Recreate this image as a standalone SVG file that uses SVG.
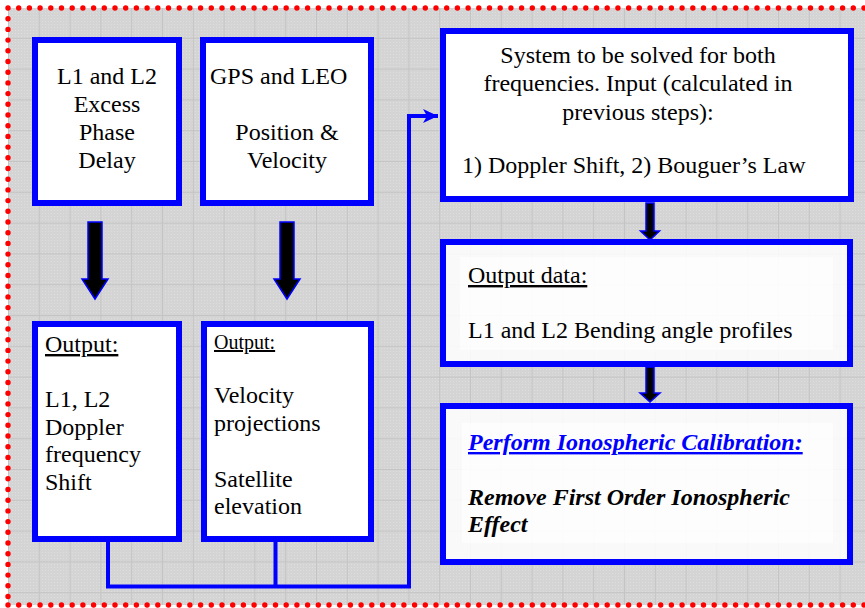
<svg xmlns="http://www.w3.org/2000/svg" width="865" height="608" viewBox="0 0 865 608">
<defs>
<pattern id="fine" width="3" height="3" patternUnits="userSpaceOnUse">
<rect width="3" height="3" fill="#d4d4d4"/>
<rect width="1" height="1" fill="#dedede"/>
</pattern>
<pattern id="grid" x="8" y="7" width="30.8" height="30.8" patternUnits="userSpaceOnUse">
<path d="M0 0.5 H30.8 M0.5 0 V30.8" stroke="#c4c4c4" stroke-width="1" fill="none"/>
</pattern>
<path id="fat" d="M -7 0 H 7 V 57 H 13 L 0 77 L -13 57 H -7 Z"/>
<marker id="ah" markerWidth="16" markerHeight="16" refX="15" refY="8" orient="auto" markerUnits="userSpaceOnUse">
<path d="M0 1 L15 8 L0 15 L4 8 Z" fill="#0000ff"/>
</marker>
</defs>
<style>
.box{fill:#ffffff;stroke:#0000ff;stroke-width:6}
.box2{fill:#ffffff;fill-opacity:0.85;stroke:#0000ff;stroke-width:6}
.inner{fill:#ffffff;fill-opacity:0.6}
.fat{fill:#000000;stroke:#0000ff;stroke-width:1.5}
.conn{fill:none;stroke:#0000ff;stroke-width:4}
.dots{stroke:#ff0000;stroke-width:5.4;stroke-linecap:round;stroke-dasharray:0 10.7;fill:none}
text{font-family:"Liberation Serif","Times New Roman",serif;font-size:24px;fill:#000000}
.c{text-anchor:middle}
.u{text-decoration:underline}
.bi{font-weight:bold;font-style:italic}
</style>
<rect x="0" y="0" width="865" height="608" fill="#ffffff"/>
<rect x="8" y="8" width="857" height="597" fill="url(#fine)"/>
<rect x="8" y="8" width="857" height="597" fill="url(#grid)"/>
<path class="dots" d="M8 8 H865 M8 8 V605 M8 605 H865"/>

<g id="connectors">
<polyline class="conn" points="108,542 108,586.5 409,586.5 409,116 438,116" marker-end="url(#ah)"/>
<line class="conn" x1="275.5" y1="542" x2="275.5" y2="586.5"/>
<use href="#fat" class="fat" transform="translate(95,222)"/>
<use href="#fat" class="fat" transform="translate(287,222)"/>
<path class="fat" d="M646 203 H654 V231 H659.5 L650 240 L640.5 231 H646 Z"/>
<path class="fat" d="M646 367 H654 V393 H660 L650 402 L640 393 H646 Z"/>
</g>

<g id="node-excess">
<rect class="box" x="35" y="40" width="144" height="163"/>
<text class="c" x="107" y="84">L1 and L2</text>
<text class="c" x="107" y="112">Excess</text>
<text class="c" x="107" y="140">Phase</text>
<text class="c" x="107" y="168">Delay</text>
</g>

<g id="node-gps">
<rect class="box" x="203" y="40" width="168" height="163"/>
<text x="210" y="84">GPS and LEO</text>
<text class="c" x="287" y="140">Position &amp;</text>
<text class="c" x="287" y="168">Velocity</text>
</g>

<g id="node-doppler">
<rect class="box" x="35" y="324" width="144" height="215"/>
<text class="u" x="45" y="352">Output:</text>
<text x="45" y="407">L1, L2</text>
<text x="45" y="435">Doppler</text>
<text x="45" y="462">frequency</text>
<text x="45" y="490">Shift</text>
</g>

<g id="node-velocity">
<rect class="box" x="204" y="324" width="167" height="215"/>
<text class="u" x="214" y="349" style="font-size:20px">Output:</text>
<text x="214" y="403">Velocity</text>
<text x="214" y="431">projections</text>
<text x="214" y="487">Satellite</text>
<text x="214" y="514">elevation</text>
</g>

<g id="node-system">
<rect class="box" x="443" y="31" width="408" height="168"/>
<text class="c" x="638" y="63">System to be solved for  both</text>
<text class="c" x="638" y="91">frequencies. Input (calculated in</text>
<text class="c" x="638" y="120">previous steps):</text>
<text x="462" y="173">1) Doppler Shift, 2) Bouguer’s Law</text>
</g>

<g id="node-bending">
<rect class="box2" x="443" y="242" width="407" height="122"/>
<rect class="inner" x="460" y="257" width="373" height="93"/>
<text class="u" x="468" y="283">Output data:</text>
<text x="468" y="338">L1 and L2 Bending angle profiles</text>
</g>

<g id="node-iono">
<rect class="box2" x="443" y="406" width="407" height="156"/>
<rect class="inner" x="462" y="423" width="371" height="120"/>
<text class="bi u" x="468" y="450" style="fill:#0000ff">Perform Ionospheric Calibration:</text>
<text class="bi" x="468" y="505">Remove First Order Ionospheric</text>
<text class="bi" x="468" y="532">Effect</text>
</g>
</svg>
